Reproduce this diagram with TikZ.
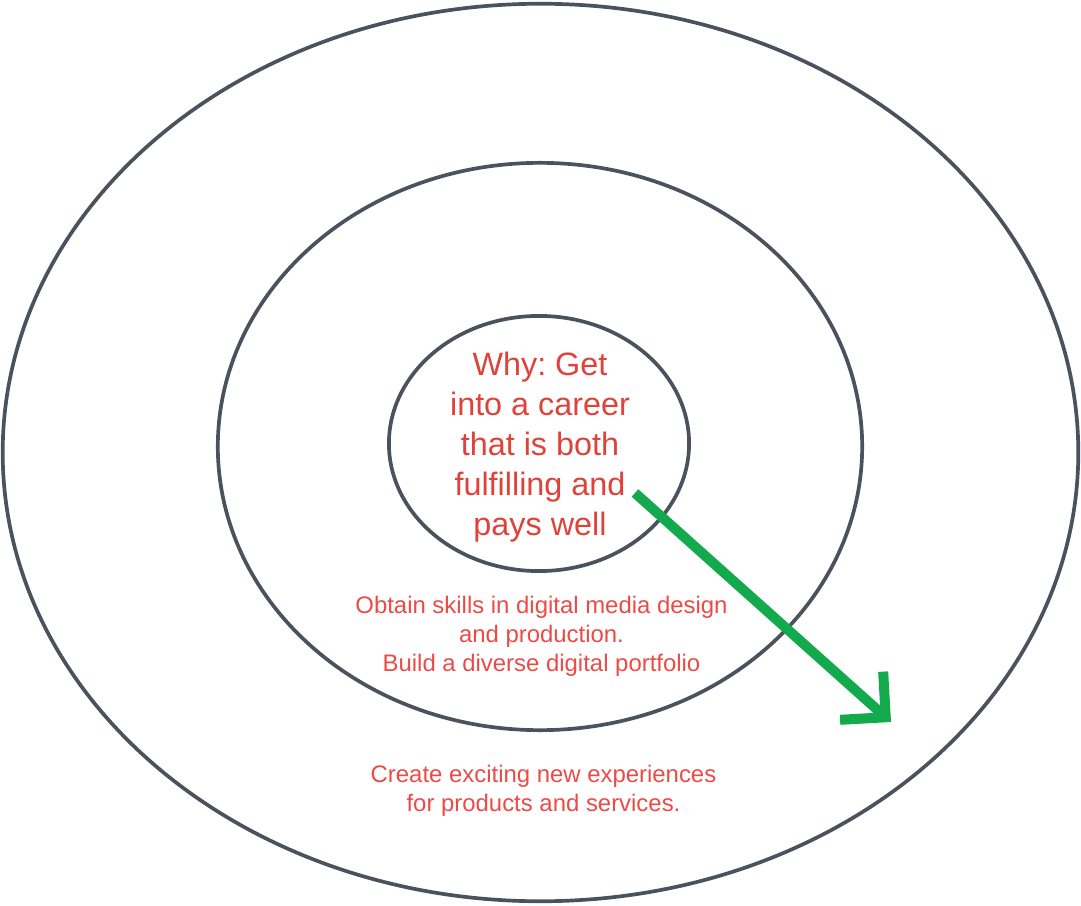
\documentclass[tikz,border=0pt]{standalone}
\usepackage{fontspec}
\setmainfont{Liberation Sans}
\frenchspacing
\usetikzlibrary{shapes.geometric,arrows.meta}
\definecolor{ringgray}{RGB}{74,82,94}
\definecolor{whyred}{RGB}{224,66,58}
\definecolor{textred}{RGB}{236,74,70}
\definecolor{pathgreen}{RGB}{18,170,76}
\begin{document}
\begin{tikzpicture}[x=0.01cm,y=-0.01cm,
  ring/.style={ellipse,draw=ringgray,line width=1.05pt,inner sep=0pt},
  ringtext/.style={align=center,text=textred,font=\fontsize{6.8pt}{8.25pt}\selectfont}]
\useasboundingbox (0,0) rectangle (1081,906);
\node[ring,minimum width=10.75cm,minimum height=8.97cm] (outer) at (540.5,452.5) {};
\node[ring,minimum width=6.44cm,minimum height=5.67cm] (middle) at (540,446.5) {};
\node[ring,minimum width=3cm,minimum height=2.55cm] (inner) at (539,443.5) {};
\node[align=center,text=whyred,font=\fontsize{9.2pt}{11.38pt}\selectfont] (why) at (540,447)
  {Why: Get\\into a career\\that is both\\fulfilling and\\pays well};
\node[ringtext] (how) at (541.5,636)
  {Obtain skills in digital media design\\and production.\\Build a diverse digital portfolio};
\node[ringtext] (what) at (543.5,790.5)
  {Create exciting new experiences\\for products and services.};
\coordinate (from) at (635,493);
\coordinate (to) at (891,722);
\draw[pathgreen,line width=2.85pt,-{Straight Barb[angle=90:13pt,sharp]}] (from) -- (to);
\end{tikzpicture}
\end{document}
